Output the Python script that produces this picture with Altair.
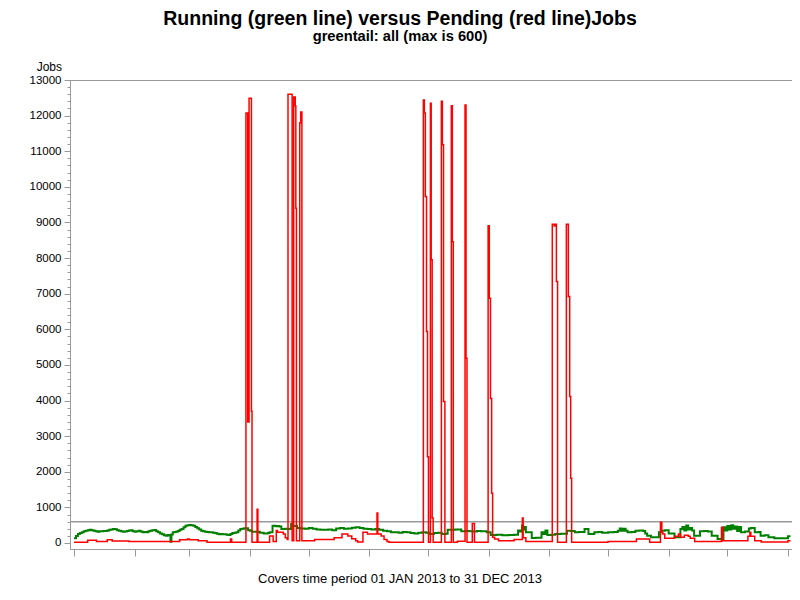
import altair as alt
import pandas as pd

# Day of year (0 = 01 JAN 2013) and job counts
green_day = [0, 1, 2, 3, 4, 5, 6, 7, 8, 9, 10, 11, 12, 13, 14, 15, 16, 17, 18, 19, 20, 21, 22, 23, 24, 25,
             26, 27, 28, 29, 30, 31, 32, 33, 34, 35, 36, 37, 38, 39, 40, 41, 42, 43, 44, 45, 46, 47, 48,
             49.3, 49.8, 50.5, 51.5, 52, 53, 54, 55, 56, 57, 58, 59, 60, 61, 62, 63, 64, 65, 66, 67, 68,
             69, 70, 71, 72, 73, 74, 75, 76, 77, 78, 79, 80, 81, 82, 83, 84, 85, 86, 87, 88, 89, 90,
             91, 93, 95, 97, 99, 100, 101.5, 103, 104, 105, 106, 108, 110, 111, 112, 114, 116, 118, 120,
             122, 124, 126, 128, 130, 132, 134, 136, 138, 140, 142, 144, 146, 148, 150, 152, 154, 156,
             158, 160, 162, 164, 166, 168, 170, 172, 174, 176, 178, 180, 182, 184, 186, 188, 190, 191,
             193, 195, 198, 200, 202, 204, 206, 208, 211, 213, 216, 219, 222, 225, 227, 228, 229, 229.6,
             230.2, 231, 234, 236, 239, 240, 241, 242, 244, 246, 249, 252, 254, 256, 258, 261, 263, 266,
             268, 270, 273, 276, 278, 279, 280, 281, 282, 283, 285, 287, 289, 291, 292, 293, 295, 299,
             300, 302, 304, 307, 310, 311, 312, 313, 314, 315, 316, 317, 320, 322, 324, 326, 329, 332,
             333, 334, 335, 336, 337, 338, 339, 340, 341, 343, 345, 346, 348, 350, 351, 353, 355, 358,
             362, 365, 366.3]
green_val = [130, 200, 250, 280, 300, 330, 346, 360, 375, 360, 346, 330, 318, 330, 330, 340, 337, 350, 375,
             380, 393, 385, 360, 346, 330, 318, 325, 337, 350, 356, 330, 318, 330, 346, 320, 300, 310, 300,
             330, 346, 360, 365, 330, 300, 270, 243, 220, 206, 225, 37, 240, 300, 310, 318, 340, 370, 393,
             440, 487, 500, 505, 495, 487, 450, 412, 380, 346, 330, 318, 310, 305, 300, 290, 281, 260, 243,
             250, 243, 243, 235, 225, 250, 281, 290, 300, 350, 393, 400, 412, 412, 360, 346,
             318, 318, 290, 270, 280, 300, 487, 470, 480, 460, 390, 400, 390, 530, 480, 420, 410, 400, 420,
             400, 380, 370, 375, 380, 360, 410, 420, 400, 410, 430, 440, 420, 400, 390, 380, 390, 370,
             346, 330, 300, 300, 290, 310, 300, 280, 270, 290, 300, 290, 253, 280, 290, 253, 260, 375,
             370, 380, 330, 340, 330, 320, 335, 330, 300, 225, 230, 220, 225, 230, 350, 320, 490, 380,
             450, 300, 140, 150, 300, 250, 350, 225, 230, 253, 260, 346, 340, 300, 310, 390, 253, 300,
             310, 290, 300, 310, 346, 410, 346, 400, 346, 300, 310, 346, 350, 340, 270, 206, 160, 300,
             346, 360, 270, 160, 390, 450, 350, 490, 380, 420, 350, 206, 330, 340, 320, 206, 112, 440,
             350, 480, 380, 500, 400, 460, 340, 450, 300, 320, 410, 420, 300, 310, 206, 220, 160, 130,
             135, 190, 190]

red_day = [0, 7, 11.5, 17, 19.5, 28, 54, 58, 59, 63.5, 68, 80, 80.6, 87.9, 88.8, 89.5, 90.7, 91, 93.6, 94,
           100, 101.8, 103.4, 104, 107, 108, 109, 109.4, 111.5, 112.3, 113.1, 113.4, 113.7, 115.4, 115.9,
           116.5, 123, 133, 137, 140, 142, 144, 145, 147.7, 150, 154.9, 155.3, 157, 158.5, 160, 161,
           178.6, 179.1, 179.6, 180.2, 180.7, 181.2, 182.2, 182.6, 183.1, 183.6, 187.8, 188.3, 188.9,
           189.6, 192.9, 193.4, 193.9, 196, 199.9, 200.4, 200.9, 203.6, 204.7, 211.7, 212.3, 212.9,
           213.5, 214, 215, 217, 225, 229.2, 229.6, 231, 244.5, 245.5, 246, 246.6, 247.2, 251.7, 252.7,
           253.4, 253.9, 254.4, 273, 287.5, 294.3, 299.8, 300.5, 301, 302, 307, 309, 310, 312, 314, 315,
           317.3, 331, 331.6, 344.5, 345.5, 346, 348, 351.3, 365, 366.3]
red_val = [20, 75, 40, 94, 56, 40, 94, 112, 94, 65, 20, 112, 20, 12070, 3400, 12490, 3700, 20, 950, 20,
           200, 40, 350, 300, 250, 150, 100, 12600, 60, 12520, 12270, 9400, 60, 11800, 12100,
           65, 100, 150, 250, 200, 120, 60, 30, 300, 250, 840, 250, 200, 100, 40, 20,
           12440, 12070, 9730, 5940, 2420, 20, 12350, 7950, 700, 20, 12400, 11180, 3970,
           20, 12275, 8460, 20, 50, 12300, 5190, 20, 550, 20, 8910, 6870, 4060,
           1400, 160, 110, 60, 100, 700, 150, 40, 8950, 8900, 8950, 7340, 20, 8950, 6920,
           4110, 1820, 20, 40, 110, 20, 580, 300, 250, 130, 190, 250, 160, 220, 190, 130,
           40, 440, 65, 190, 300, 190, 65, 30, 60, 60]

x_ticks = [0, 15, 31, 46, 59, 74, 90, 105, 120, 135, 151, 166, 181, 196, 212, 227, 243, 258,
           273, 288, 304, 319, 334, 349, 365]
y_major = list(range(0, 13001, 1000))
y_minor = list(range(0, 13001, 200))
max_line = [600]

title_text = "Running (green line) versus Pending (red line)Jobs"
subtitle_text = "greentail: all (max is 600)"
footer_text = "Covers time period 01 JAN 2013 to 31 DEC 2013"

gray = "#9a9a9a"
font = "Liberation Sans, Arial, sans-serif"

df_g = pd.DataFrame({"day": green_day, "val": green_val})
df_r = pd.DataFrame({"day": red_day, "val": red_val})

xs = alt.Scale(domain=[-2.045, 367.045], nice=False, zero=False)
ys = alt.Scale(domain=[-168.5, 13000], nice=False, zero=False)

x_enc = alt.X("day:Q", scale=xs, axis=alt.Axis(values=x_ticks, labels=False, title=None, tickSize=7,
                                                tickColor=gray, domainColor=gray, grid=False))
y_main = alt.Y("val:Q", scale=ys, axis=alt.Axis(values=y_major, title=None, tickSize=6, orient="left",
                                                 format="d", labelPadding=3, labelFont=font,
                                                 labelFontSize=11.5, labelColor="black", tickColor=gray,
                                                 domainColor=gray, grid=False))
y_min = alt.Y("val:Q", scale=ys, axis=alt.Axis(values=y_minor, title=None, tickSize=3, orient="left",
                                                labels=False, tickColor=gray, domain=False, grid=False))

ref = alt.Chart(pd.DataFrame({"val": max_line})).mark_rule(color=gray, strokeWidth=1.5).encode(y=y_min)
green = alt.Chart(df_g).mark_line(color="#008000", strokeWidth=2, interpolate="step-after").encode(
    x=x_enc, y=y_main)
red = alt.Chart(df_r).mark_line(color="#ff0000", strokeWidth=1.5, interpolate="step-after").encode(
    x=alt.X("day:Q", scale=xs), y=alt.Y("val:Q", scale=ys, axis=None))


def label(txt, x, y, size, weight="normal", align="center"):
    return alt.Chart(pd.DataFrame({"t": [txt]})).mark_text(
        font=font, fontSize=size, fontWeight=weight, align=align, baseline="alphabetic", color="black"
    ).encode(text="t:N", x=alt.value(x), y=alt.value(y))


t1 = label(title_text, 330, -55, 19.5, "bold")
t2 = label(subtitle_text, 330, -39, 14.7, "bold")
t3 = label("Jobs", -8, -9, 12, align="right")
t4 = label(footer_text, 330, 503, 13)

chart = alt.layer(ref, green, red, t1, t2, t3, t4).resolve_axis(y="independent").properties(
    width=722, height=469,
    padding={"left": 62, "top": 72, "right": 0, "bottom": 38},
    autosize=alt.AutoSizeParams(type="none"),
).configure_view(stroke=gray, strokeWidth=1)

chart.save("out.html", embed_options={"renderer": "svg", "actions": False})
